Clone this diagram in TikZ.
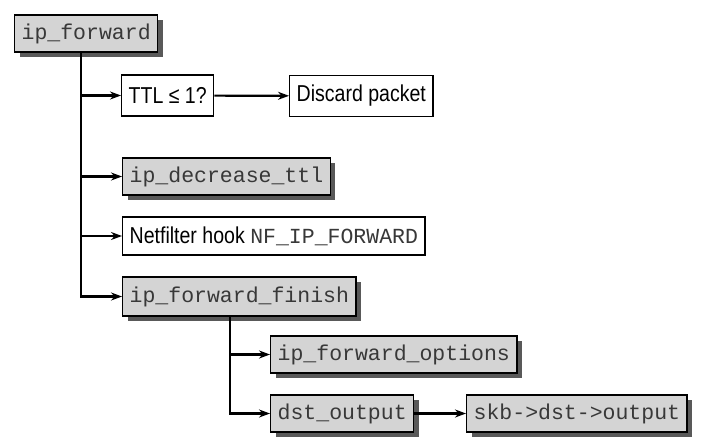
\documentclass[tikz,border=0pt]{standalone}
\usepackage{fontspec}
\setsansfont{Liberation Sans}[FakeStretch=0.85]
\setmonofont{Liberation Mono}
\usepackage{tikz}
\usetikzlibrary{shadows,arrows.meta}
\tikzstyle{fnbox} = [draw=black, fill=black!17, line width=1.3pt,
    rectangle, anchor=west, inner xsep=7pt, minimum height=37pt,
    font=\fontsize{21.5}{24}\ttfamily, text=black!78,
    drop shadow={shadow xshift=5pt, shadow yshift=-5pt, fill=black!65, opacity=1}]
\tikzstyle{txtbox} = [draw=black, fill=white, line width=1.3pt,
    rectangle, anchor=west, inner xsep=7pt, minimum height=41pt,
    font=\fontsize{23}{25}\sffamily]
\tikzstyle{link} = [line width=2.2pt, -{Stealth[length=11pt,width=8pt]}]

\begin{document}
\begin{tikzpicture}[x=1pt,y=1pt]
    \useasboundingbox (0,0) rectangle (712,-447);
    \node [fnbox] (ipf) at (14,-33.5) {ip\_forward};
    \node [txtbox] (ttl) at (121,-95.5) {TTL ≤ 1?};
    \node [txtbox] (discard) at (289,-96) {Discard packet};
    \node [fnbox] (dec) at (122,-176.5) {ip\_decrease\_ttl};
    \node [txtbox, minimum height=38pt] (nf) at (122,-236)
        {Netfilter hook {\ttfamily\fontsize{21.5}{24}\selectfont\color{black!78}NF\_IP\_FORWARD}};
    \node [fnbox, minimum height=39pt] (fin) at (122,-296.5) {ip\_forward\_finish};
    \node [fnbox] (opt) at (270,-354.5) {ip\_forward\_options};
    \node [fnbox] (dst) at (270,-413.5) {dst\_output};
    \node [fnbox] (skb) at (466,-413.5) {skb->dst->output};
    % trunk lines
    \coordinate (t1) at (81,0);
    \coordinate (t2) at (230,0);
    \draw [link] (t1 |- ipf.south) |- (fin.west);
    \foreach \n in {ttl,dec,nf}
        \draw [link] (t1 |- \n.west) -- (\n.west);
    \draw [link] (t2 |- fin.south) |- (dst.west);
    \draw [link] (t2 |- opt.west) -- (opt.west);
    \draw [link] (ttl) -- (discard);
    \draw [link] (dst) -- (skb);
\end{tikzpicture}
\end{document}
